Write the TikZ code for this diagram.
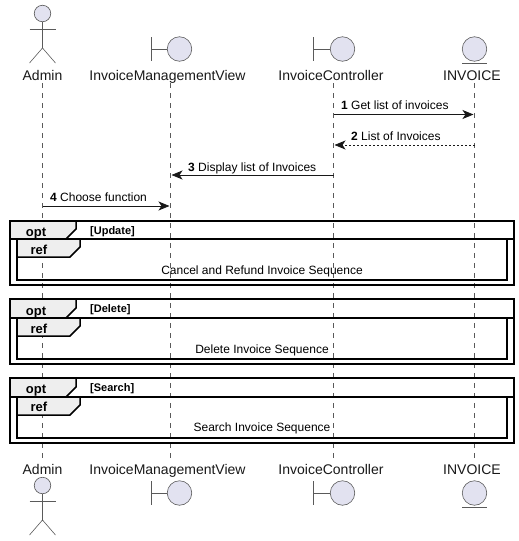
\documentclass[tikz,border=0pt]{standalone}
\usepackage{fontspec}
\setmainfont{Liberation Sans}
\usetikzlibrary{arrows.meta}
\definecolor{partfill}{HTML}{E2E2F0}
\definecolor{partline}{HTML}{5A5A5A}
\definecolor{tabfill}{HTML}{EEEEEE}
\definecolor{inkdark}{HTML}{181818}
\begin{document}
\begin{tikzpicture}[x=1pt,y=-1pt]
\tikzset{partname/.style={inner sep=0pt, anchor=base, font=\fontsize{14}{16}\selectfont, text=inkdark}}
\tikzset{partball/.style={draw=partline, fill=partfill, circle, inner sep=0pt, line width=0.6pt, minimum size=24.5pt}}
\tikzset{actorhead/.style={partball, minimum size=16.5pt}}
\tikzset{partstroke/.style={draw=partline, line width=0.6pt}}
\tikzset{lifeline/.style={draw=partline, line width=0.5pt, dash pattern=on 5pt off 5pt}}
\tikzset{callline/.style={draw=inkdark, line width=0.8pt, -{Stealth[length=11pt,width=9pt,inset=3pt]}}}
\tikzset{returnline/.style={callline, dash pattern=on 2pt off 2pt}}
\tikzset{calltext/.style={inner sep=0pt, anchor=base west, font=\fontsize{12}{14}\selectfont, text=black}}
\tikzset{boxline/.style={draw=black, line width=1.5pt}}
\tikzset{tabshape/.style={boxline, fill=tabfill}}
\tikzset{tabtext/.style={inner sep=0pt, anchor=base, font=\fontsize{13}{15}\selectfont\bfseries}}
\tikzset{guardtext/.style={inner sep=0pt, anchor=base west, font=\fontsize{11}{13}\selectfont\bfseries}}
\tikzset{reftext/.style={inner sep=0pt, anchor=base, font=\fontsize{12}{14}\selectfont}}
\useasboundingbox (0,0) rectangle (519,541);
% top participants
\node[partname] (adminTop) at (42.5,80) {Admin};
\node[partname] (viewTop) at (167.5,80) {InvoiceManagementView};
\node[partname] (ctrlTop) at (331,80) {InvoiceController};
\node[partname] (invoiceTop) at (472,80) {INVOICE};
% bottom participants
\node[partname] (adminBot) at (42.5,474) {Admin};
\node[partname] (viewBot) at (167.5,474) {InvoiceManagementView};
\node[partname] (ctrlBot) at (331,474) {InvoiceController};
\node[partname] (invoiceBot) at (472,474) {INVOICE};
% lifelines
\coordinate (adminA) at (42.5,83);
\coordinate (adminB) at (42.5,458);
\coordinate (viewA) at (170.5,83);
\coordinate (viewB) at (170.5,458);
\coordinate (ctrlA) at (333.5,83);
\coordinate (ctrlB) at (333.5,458);
\coordinate (invoiceA) at (474.5,83);
\coordinate (invoiceB) at (474.5,458);
\draw[lifeline] (adminA) -- (adminB);
\draw[lifeline] (viewA) -- (viewB);
\draw[lifeline] (ctrlA) -- (ctrlB);
\draw[lifeline] (invoiceA) -- (invoiceB);
% actor, top
\node[actorhead] (headTop) at (42.5,13.5) {};
\coordinate (hipTop) at (42.5,48);
\coordinate (armLTop) at (29.5,29);
\coordinate (armRTop) at (55.5,29);
\coordinate (legLTop) at (29.5,63);
\coordinate (legRTop) at (55.5,63);
\draw[partstroke] (headTop) -- (hipTop);
\draw[partstroke] (armLTop) -- (armRTop);
\draw[partstroke] (legLTop) -- (hipTop) -- (legRTop);
% actor, bottom
\node[actorhead] (headBot) at (42.5,485.5) {};
\coordinate (hipBot) at (42.5,520);
\coordinate (armLBot) at (29.5,501);
\coordinate (armRBot) at (55.5,501);
\coordinate (legLBot) at (29.5,535);
\coordinate (legRBot) at (55.5,535);
\draw[partstroke] (headBot) -- (hipBot);
\draw[partstroke] (armLBot) -- (armRBot);
\draw[partstroke] (legLBot) -- (hipBot) -- (legRBot);
% boundaries and entity, top
\node[partball] (viewBall) at (179.5,49) {};
\coordinate (viewBarA) at (151,37);
\coordinate (viewBarB) at (151,61);
\coordinate (viewBarM) at (151,49);
\draw[partstroke] (viewBarA) -- (viewBarB);
\draw[partstroke] (viewBarM) -- (viewBall);
\node[partball] (ctrlBall) at (342.5,49) {};
\coordinate (ctrlBarA) at (313.5,37);
\coordinate (ctrlBarB) at (313.5,61);
\coordinate (ctrlBarM) at (313.5,49);
\draw[partstroke] (ctrlBarA) -- (ctrlBarB);
\draw[partstroke] (ctrlBarM) -- (ctrlBall);
\node[partball] (invoiceBall) at (474.5,49) {};
\coordinate (invoiceBarA) at (462,63);
\coordinate (invoiceBarB) at (487,63);
\draw[partstroke] (invoiceBarA) -- (invoiceBarB);
% boundaries and entity, bottom
\node[partball] (viewBall2) at (179.5,493) {};
\coordinate (viewBar2A) at (151,481);
\coordinate (viewBar2B) at (151,505);
\coordinate (viewBar2M) at (151,493);
\draw[partstroke] (viewBar2A) -- (viewBar2B);
\draw[partstroke] (viewBar2M) -- (viewBall2);
\node[partball] (ctrlBall2) at (342.5,493) {};
\coordinate (ctrlBar2A) at (313.5,481);
\coordinate (ctrlBar2B) at (313.5,505);
\coordinate (ctrlBar2M) at (313.5,493);
\draw[partstroke] (ctrlBar2A) -- (ctrlBar2B);
\draw[partstroke] (ctrlBar2M) -- (ctrlBall2);
\node[partball] (invoiceBall2) at (474.5,493) {};
\coordinate (invoiceBar2A) at (462,507);
\coordinate (invoiceBar2B) at (487,507);
\draw[partstroke] (invoiceBar2A) -- (invoiceBar2B);
% messages
\coordinate (msgOneA) at (333.5,114.5);
\coordinate (msgOneB) at (473.5,114.5);
\coordinate (msgTwoA) at (474.5,145);
\coordinate (msgTwoB) at (334.5,145);
\coordinate (msgThreeA) at (333.5,175);
\coordinate (msgThreeB) at (171.5,175);
\coordinate (msgFourA) at (42.5,206);
\coordinate (msgFourB) at (169.5,206);
\draw[callline] (msgOneA) -- (msgOneB);
\draw[returnline] (msgTwoA) -- (msgTwoB);
\draw[callline] (msgThreeA) -- (msgThreeB);
\draw[callline] (msgFourA) -- (msgFourB);
\node[calltext] (msgOne) at (341,109) {\textbf{1} Get list of invoices};
\node[calltext] (msgTwo) at (351,140) {\textbf{2} List of Invoices};
\node[calltext] (msgThree) at (188,171) {\textbf{3} Display list of Invoices};
\node[calltext] (msgFour) at (50,201) {\textbf{4} Choose function};
% first opt
\draw[boxline] (10,221) rectangle (514,285);
\draw[tabshape] (10,221) -- (76,221) -- (76,229) -- (66,239) -- (10,239) -- cycle;
\draw[boxline] (10,239) -- (514,239);
\draw[boxline] (17,239) rectangle (507,280);
\draw[tabshape] (17,239) -- (80,239) -- (80,247) -- (70,257) -- (17,257) -- cycle;
\node[tabtext] (optOne) at (36,236) {opt};
\node[guardtext] (guardOne) at (90,234) {[Update]};
\node[tabtext] (refOne) at (39,254) {ref};
\node[reftext] (seqOne) at (262,274) {Cancel and Refund Invoice Sequence};
% second opt
\draw[boxline] (10,299) rectangle (514,364);
\draw[tabshape] (10,299) -- (76,299) -- (76,308) -- (66,318) -- (10,318) -- cycle;
\draw[boxline] (10,318) -- (514,318);
\draw[boxline] (17,318) rectangle (507,359);
\draw[tabshape] (17,318) -- (80,318) -- (80,326) -- (70,336) -- (17,336) -- cycle;
\node[tabtext] (optTwo) at (36,315) {opt};
\node[guardtext] (guardTwo) at (90,312) {[Delete]};
\node[tabtext] (refTwo) at (39,333) {ref};
\node[reftext] (seqTwo) at (262,353) {Delete Invoice Sequence};
% third opt
\draw[boxline] (10,378) rectangle (514,443);
\draw[tabshape] (10,378) -- (76,378) -- (76,387) -- (66,397) -- (10,397) -- cycle;
\draw[boxline] (10,397) -- (514,397);
\draw[boxline] (17,397) rectangle (507,438);
\draw[tabshape] (17,397) -- (80,397) -- (80,405) -- (70,415) -- (17,415) -- cycle;
\node[tabtext] (optThree) at (36,393) {opt};
\node[guardtext] (guardThree) at (90,391) {[Search]};
\node[tabtext] (refThree) at (39,411) {ref};
\node[reftext] (seqThree) at (262,431) {Search Invoice Sequence};
\end{tikzpicture}
\end{document}
